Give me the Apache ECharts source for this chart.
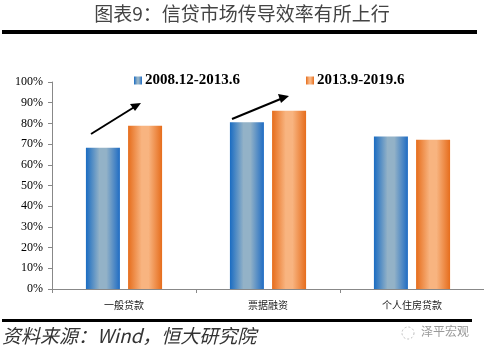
<!DOCTYPE html>
<html><head><meta charset="utf-8">
<script src="https://cdn.jsdelivr.net/npm/echarts@6/dist/echarts.min.js"></script>
<style>html,body{margin:0;padding:0;background:#fff}#c{width:484px;height:354px}</style>
</head><body><div id="c"></div>
<script>
var categories = ['一般贷款', '票据融资', '个人住房贷款'];
var seriesNames = ['2008.12-2013.6', '2013.9-2019.6'];
var valuesA = [0.682, 0.805, 0.737];
var valuesB = [0.789, 0.861, 0.721];
var yTicks = [0, 0.1, 0.2, 0.3, 0.4, 0.5, 0.6, 0.7, 0.8, 0.9, 1.0];

var blueGrad = new echarts.graphic.LinearGradient(0, 0, 1, 0, [
  {offset: 0, color: '#1a6cc2'}, {offset: 0.4, color: '#93b2c7'},
  {offset: 0.6, color: '#93b2c7'}, {offset: 1, color: '#1f6cc3'}]);
var orangeGrad = new echarts.graphic.LinearGradient(0, 0, 1, 0, [
  {offset: 0, color: '#e66d1c'}, {offset: 0.4, color: '#f8b480'},
  {offset: 0.6, color: '#f8b480'}, {offset: 1, color: '#e66d1c'}]);

var chart = echarts.init(document.getElementById('c'));
var serif = '"Liberation Serif", "Times New Roman", serif';
chart.setOption({
  animation: false,
  grid: {left: 52, right: -3, top: 82, bottom: 65},
  legend: {
    data: seriesNames, top: 68, left: 129, itemGap: 66,
    itemWidth: 8, itemHeight: 8, icon: 'rect',
    textStyle: {fontFamily: serif, fontWeight: 'bold', fontSize: 15, color: '#000', padding: [0, 0, 0, -2]}
  },
  xAxis: {
    type: 'category', data: categories,
    axisLine: {lineStyle: {color: '#888'}},
    axisTick: {show: true, length: 4, lineStyle: {color: '#888'}},
    axisLabel: {fontFamily: '"Noto Sans CJK SC", sans-serif', fontSize: 10, color: '#222', margin: 11}
  },
  yAxis: {
    type: 'value', min: 0, max: 1, interval: 0.1,
    splitLine: {show: false},
    axisLine: {show: true, lineStyle: {color: '#888'}},
    axisTick: {show: true, inside: false, length: 4, lineStyle: {color: '#888'}},
    axisLabel: {fontFamily: serif, fontSize: 12, color: '#000', margin: 9,
      formatter: function (v) { return Math.round(v * 100) + '%'; }}
  },
  series: [
    {name: seriesNames[0], type: 'bar', data: valuesA, barWidth: 34, barGap: '24%', itemStyle: {color: blueGrad}},
    {name: seriesNames[1], type: 'bar', data: valuesB, barWidth: 34, itemStyle: {color: orangeGrad}}
  ],
  graphic: [
    {type: 'text', left: 'center', top: 4, style: {text: '图表9：信贷市场传导效率有所上行', font: '19px "Noto Sans CJK SC"', fill: '#444'}},
    {type: 'rect', shape: {x: 2, y: 30, width: 475, height: 4}, style: {fill: '#000'}},
    {type: 'rect', shape: {x: 2, y: 319, width: 470, height: 3}, style: {fill: '#000'}},
    {type: 'text', left: 2, top: 326, style: {text: '资料来源：Wind，恒大研究院', font: 'italic 19px "Noto Sans CJK SC"', fill: '#333'}},
    {type: 'text', left: 421, top: 325, style: {text: '泽平宏观', font: '12px "Noto Sans CJK SC"', fill: '#999'}},
    {type: 'circle', shape: {cx: 408, cy: 333, r: 6}, style: {fill: 'none', stroke: '#bbb', lineWidth: 1, lineDash: [2, 2]}},
    {type: 'line', shape: {x1: 91, y1: 134, x2: 136, y2: 106}, style: {stroke: '#000', lineWidth: 2}},
    {type: 'polygon', shape: {points: [[141, 103], [130, 104], [135, 111]]}, style: {fill: '#000'}},
    {type: 'line', shape: {x1: 232, y1: 119, x2: 283, y2: 98}, style: {stroke: '#000', lineWidth: 2}},
    {type: 'polygon', shape: {points: [[289, 96], [278, 94], [281, 103]]}, style: {fill: '#000'}}
  ]
});
</script></body></html>
